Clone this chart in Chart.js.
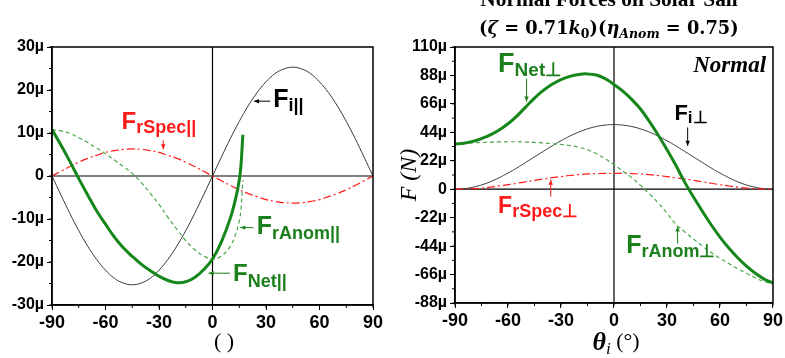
<!DOCTYPE html>
<html>
<head>
<meta charset="utf-8">
<script src="https://cdn.jsdelivr.net/npm/chart.js@4.4.1/dist/chart.umd.min.js"></script>
<style>
  html, body { margin: 0; padding: 0; background: #fff; }
  body { width: 785px; height: 358px; overflow: hidden; position: relative; }
  #c1 { position: absolute; left: 0; top: 0; }
  #c2 { position: absolute; left: 392px; top: 0; }
</style>
</head>
<body>
<canvas id="c1" width="392" height="358"></canvas>
<canvas id="c2" width="393" height="358"></canvas>
<script>
// ---------------- DATA ----------------
// incidence angle, degrees
const thetaFull = [-90,-85,-80,-75,-70,-65,-60,-55,-50,-45,-40,-35,-30,-25,-20,-15,-10,-5,0,
                   5,10,15,20,25,30,35,40,45,50,55,60,65,70,75,80,85,90];
const thetaShort = [-90,-85,-80,-75,-70,-65,-60,-55,-50,-45,-40,-35,-30,-25,-20,-15,-10,-5,0,
                    5,10,13,15,16,17];

// Parallel forces (µN)
const fiPar   = [0,-4.4,-8.7,-12.7,-16.3,-19.4,-21.9,-23.8,-24.9,-25.3,-24.9,-23.8,-21.9,-19.4,-16.3,-12.7,-8.7,-4.4,0,
                 4.4,8.7,12.7,16.3,19.4,21.9,23.8,24.9,25.3,24.9,23.8,21.9,19.4,16.3,12.7,8.7,4.4,0];
const specPar = [0,1.1,2.2,3.2,4.1,4.8,5.5,5.9,6.2,6.3,6.2,5.9,5.5,4.8,4.1,3.2,2.2,1.1,0,
                 -1.1,-2.2,-3.2,-4.1,-4.8,-5.5,-5.9,-6.2,-6.3,-6.2,-5.9,-5.5,-4.8,-4.1,-3.2,-2.2,-1.1,0];
const anomPar = [10.8,10.5,9.9,8.9,7.8,6.5,5.2,3.7,2.2,0.6,-1.5,-4.0,-6.6,-9.6,-12.4,-15.0,-17.1,-18.6,-19.3,
                 -18.6,-16.3,-13.5,-10.5,-7.5,-1.0];
const netPar  = [10.8,7.2,3.4,-0.6,-4.4,-8.1,-11.2,-14.2,-16.7,-18.7,-20.5,-22.0,-23.3,-24.3,-24.8,-24.6,-23.6,-21.8,-19.3,
                 -15.3,-9.8,-5.2,-1.0,2.6,9.6];

// Normal forces (µN)
const fiPerp   = [0,0.4,1.5,3.3,5.8,8.9,12.5,16.4,20.7,25,29.3,33.5,37.5,41.1,44.2,46.7,48.5,49.6,50,
                  49.6,48.5,46.7,44.2,41.1,37.5,33.5,29.3,25,20.7,16.4,12.5,8.9,5.8,3.3,1.5,0.4,0];
const specPerp = [0,0.1,0.4,0.9,1.6,2.5,3.5,4.6,5.7,6.8,7.9,8.9,9.8,10.6,11.3,11.8,12.1,12.3,12.3,
                  12.3,12.1,11.8,11.3,10.6,9.8,8.9,7.9,6.8,5.7,4.6,3.5,2.5,1.6,0.9,0.4,0.1,0];
const anomPerp = [35.0,35.4,35.8,36.1,36.4,36.6,36.7,36.7,36.5,36.2,35.8,35.2,34.6,33.8,32.5,30.5,27.5,23.5,19.0,
                  14.0,9.0,3.0,-3.5,-10.5,-18.5,-27.0,-33.0,-38.5,-44.0,-49.0,-53.5,-57.5,-61.5,-65.0,-68.5,-71.5,-73.0];
const netPerp  = [35.0,35.6,37.0,39.2,42.0,45.8,50.6,56.6,63.5,70.5,76.5,81.2,84.8,87.3,88.8,89.2,88.3,85.5,81.0,
                  75.8,69.5,62.0,52.5,42.0,30.5,18.5,5.5,-6.0,-17.0,-27.5,-37.0,-45.5,-53.0,-59.5,-65.0,-69.5,-72.5];

// Tick labels
const xTicks     = [-90,-60,-30,0,30,60,90];
const yTicksPar  = [-30,-20,-10,0,10,20,30];
const yTicksPerp = [-88,-66,-44,-22,0,22,44,66,88,110];

// ---------------- helpers ----------------
function pts(xs, ys) { return xs.map((x, i) => ({ x: x, y: ys[i] })); }
function fmtMu(v) { return v === 0 ? '0' : v + 'µ'; }

const GREEN = '#15861a';
const GREEN_TXT = '#1b7f1b';
const RED = '#ff1a1a';

function drawArrow(ctx, x1, y1, x2, y2, color) {
  ctx.strokeStyle = color; ctx.fillStyle = color; ctx.lineWidth = 1;
  ctx.beginPath(); ctx.moveTo(x1, y1); ctx.lineTo(x2, y2); ctx.stroke();
  const ang = Math.atan2(y2 - y1, x2 - x1), L = 5, W = 2.2;
  ctx.beginPath();
  ctx.moveTo(x2, y2);
  ctx.lineTo(x2 - L * Math.cos(ang) + W * Math.sin(ang), y2 - L * Math.sin(ang) - W * Math.cos(ang));
  ctx.lineTo(x2 - L * Math.cos(ang) - W * Math.sin(ang), y2 - L * Math.sin(ang) + W * Math.cos(ang));
  ctx.closePath(); ctx.fill();
}

function drawForceLabel(ctx, sx, sy, lab) {
  const px = sx.getPixelForValue(lab.x), py = sy.getPixelForValue(lab.y);
  ctx.fillStyle = lab.color;
  ctx.textAlign = 'left'; ctx.textBaseline = 'alphabetic';
  ctx.font = 'bold ' + lab.fs + 'px "Liberation Sans", Arial, sans-serif';
  ctx.fillText(lab.main, px, py);
  const w = ctx.measureText(lab.main).width;
  ctx.font = 'bold ' + lab.ss + 'px "Liberation Sans", Arial, sans-serif';
  ctx.fillText(lab.sub, px + w, py + lab.dy);
  if (lab.arrow) {
    const a = lab.arrow;
    drawArrow(ctx, sx.getPixelForValue(a[0]), sy.getPixelForValue(a[1]),
                   sx.getPixelForValue(a[2]), sy.getPixelForValue(a[3]), lab.color);
  }
}

const decor = {
  id: 'decor',
  beforeDatasetsDraw(chart) {
    const { ctx, chartArea: a, scales: { x, y } } = chart;
    ctx.save();
    ctx.strokeStyle = '#000'; ctx.lineWidth = 1.2;
    const x0 = x.getPixelForValue(0), y0 = y.getPixelForValue(0);
    ctx.beginPath();
    ctx.moveTo(a.left, y0); ctx.lineTo(a.right, y0);
    ctx.moveTo(x0, a.top); ctx.lineTo(x0, a.bottom);
    ctx.stroke();
    ctx.restore();
  },
  afterDraw(chart, args, o) {
    const { ctx, chartArea: a, scales: { x, y } } = chart;
    ctx.save();
    // frame
    ctx.strokeStyle = '#000'; ctx.lineWidth = 1.5;
    ctx.strokeRect(a.left, a.top, a.right - a.left, a.bottom - a.top);
    // minor ticks
    ctx.lineWidth = 1;
    ctx.beginPath();
    for (let v = y.min; v <= y.max + 1e-9; v += o.yMinor) {
      const p = y.getPixelForValue(v);
      ctx.moveTo(a.left, p); ctx.lineTo(a.left - 3, p);
    }
    for (let v = x.min; v <= x.max + 1e-9; v += 15) {
      const p = x.getPixelForValue(v);
      ctx.moveTo(p, a.bottom); ctx.lineTo(p, a.bottom + 3);
    }
    ctx.stroke();
    // force labels
    (o.labels || []).forEach(l => drawForceLabel(ctx, x, y, l));
    if (o.extra) o.extra(chart, ctx, a, x, y);
    ctx.restore();
  }
};

function baseOptions(yMin, yMax, yTicks, yWidth, xHeight, padRight, yMinor, labels, extra, yTitle) {
  return {
    responsive: false,
    animation: false,
    layout: { padding: { top: 47, right: padRight, left: 0, bottom: 0 } },
    elements: { point: { radius: 0 }, line: { tension: 0.4 } },
    plugins: {
      legend: { display: false },
      tooltip: { enabled: false },
      decor: { yMinor: yMinor, labels: labels, extra: extra }
    },
    scales: {
      x: {
        type: 'linear', min: -90, max: 90,
        afterBuildTicks: s => { s.ticks = xTicks.map(v => ({ value: v })); },
        afterFit: s => { s.height = xHeight; },
        ticks: { color: '#000', padding: 2, maxRotation: 0, autoSkip: false,
                 font: { family: '"Liberation Sans Narrow", "Liberation Sans", Arial', weight: 'bold', size: 18 } },
        grid: { drawOnChartArea: false, drawTicks: true, tickLength: 5, color: '#000', lineWidth: 1 },
        border: { display: true, color: '#000', width: 1.5 }
      },
      y: {
        type: 'linear', min: yMin, max: yMax,
        afterBuildTicks: s => { s.ticks = yTicks.map(v => ({ value: v })); },
        afterFit: s => { s.width = yWidth; },
        ticks: { color: '#000', padding: 3, autoSkip: false, callback: v => fmtMu(v),
                 font: { family: '"Liberation Sans", Arial', weight: 'bold', size: 16 } },
        grid: { drawOnChartArea: false, drawTicks: true, tickLength: 5, color: '#000', lineWidth: 1 },
        border: { display: true, color: '#000', width: 1.5 },
        title: yTitle || { display: false }
      }
    }
  };
}

function seriesSets(thFull, thNet, fi, spec, anom, net) {
  return [
    { data: pts(thNet, net), borderColor: GREEN, borderWidth: 3 },
    { data: pts(thNet, anom), borderColor: '#4aa84a', borderWidth: 1.2, borderDash: [4, 3] },
    { data: pts(thFull, spec), borderColor: RED, borderWidth: 1.2, borderDash: [8, 3, 2, 3] },
    { data: pts(thFull, fi), borderColor: '#3a3a3a', borderWidth: 1 }
  ];
}

// ---------------- LEFT: parallel forces ----------------
const leftLabels = [
  { main: 'F', sub: 'i||', x: 34.0, y: 16.0, fs: 25, ss: 18, dy: 4, color: '#000', arrow: [32.3, 17.4, 23.3, 17.4] },
  { main: 'F', sub: 'rSpec||', x: -51.0, y: 10.9, fs: 24, ss: 18, dy: 4, color: RED, arrow: [-27.6, 8.3, -27.6, 6.2] },
  { main: 'F', sub: 'rAnom||', x: 24.8, y: -13.6, fs: 25, ss: 18, dy: 5, color: GREEN_TXT, arrow: [22.9, -12.0, 15.6, -12.0] },
  { main: 'F', sub: 'Net||', x: 11.5, y: -24.4, fs: 24, ss: 18, dy: 6, color: GREEN_TXT, arrow: [9.8, -22.6, -2.2, -22.6] }
];
new Chart(document.getElementById('c1'), {
  type: 'line',
  data: { datasets: seriesSets(thetaFull, thetaShort, fiPar, specPar, anomPar, netPar) },
  options: baseOptions(-30, 30, yTicksPar, 52, 53, 19, 5, leftLabels,
    (chart, ctx, a) => {
      ctx.fillStyle = '#000';
      ctx.font = '22px "Liberation Serif", "Times New Roman", serif';
      ctx.textAlign = 'center'; ctx.textBaseline = 'alphabetic';
      ctx.fillText('( )', 224, 348);
    }),
  plugins: [decor]
});

// ---------------- RIGHT: normal forces ----------------
const rightLabels = [
  { main: 'F', sub: 'Net⊥', x: -65.6, y: 90.7, fs: 27, ss: 19, dy: 4, color: GREEN_TXT, arrow: [-49.5, 85.6, -49.5, 67.8] },
  { main: 'F', sub: 'i⊥', x: 34.2, y: 53.5, fs: 22, ss: 17, dy: 3, color: '#000', arrow: [41.7, 47.8, 41.7, 33.6] },
  { main: 'F', sub: 'rSpec⊥', x: -65.6, y: -18.5, fs: 23, ss: 18, dy: 4, color: RED, arrow: [-35.8, -5.7, -35.8, 7.4] },
  { main: 'F', sub: 'rAnom⊥', x: 6.9, y: -49.4, fs: 25, ss: 18, dy: 4, color: GREEN_TXT, arrow: [36.0, -42.2, 36.0, -28.9] }
];
function fitFont(ctx, text, base, targetW) {
  ctx.font = base.replace('SIZE', 20);
  const w = ctx.measureText(text).width;
  return 20 * targetW / w;
}
new Chart(document.getElementById('c2'), {
  type: 'line',
  data: { datasets: seriesSets(thetaFull, thetaFull, fiPerp, specPerp, anomPerp, netPerp) },
  options: baseOptions(-88, 110, yTicksPerp, 63, 55, 11, 11, rightLabels,
    (chart, ctx, a, sx, sy) => {
      ctx.fillStyle = '#000';
      ctx.textBaseline = 'alphabetic';
      // "Normal"
      ctx.font = 'italic bold 23px "Liberation Serif", "Times New Roman", serif';
      ctx.textAlign = 'right';
      ctx.fillText('Normal', sx.getPixelForValue(86.1), sy.getPixelForValue(90.5));
      // title line 1 (mostly cut off at top)
      const cx = 217;
      const t1 = 'Normal Forces on Solar Sail';
      const f1 = fitFont(ctx, t1, 'bold SIZEpx "Liberation Serif", serif', 258);
      ctx.font = 'bold ' + f1.toFixed(1) + 'px "Liberation Serif", serif';
      ctx.textAlign = 'center';
      ctx.fillText(t1, cx, 6);
      // title line 2 with math segments
      const S = 20, s = 14;
      const segs = [
        ['(', 'bold', S, 0], ['ζ', 'italic bold', S, 0], [' = ', 'bold', S, 0], ['0.71', 'bold', S, 0],
        ['k', 'italic bold', S, 0], ['0', 'bold', s, 4], [')(', 'bold', S, 0], ['η', 'italic bold', S, 0],
        ['Anom', 'italic bold', s, 4], [' = ', 'bold', S, 0], ['0.75', 'bold', S, 0], [')', 'bold', S, 0]
      ];
      const fam = 'px "DejaVu Serif", "Liberation Serif", serif';
      let total = 0;
      segs.forEach(g => { ctx.font = g[1] + ' ' + g[2] + fam; total += ctx.measureText(g[0]).width; });
      const k = 260 / total;
      let px = cx - 130;
      ctx.textAlign = 'left';
      segs.forEach(g => {
        ctx.font = g[1] + ' ' + (g[2] * k).toFixed(1) + fam;
        ctx.fillText(g[0], px, 34 + g[3]);
        px += ctx.measureText(g[0]).width;
      });
      // x title: θi (°)
      const xc = (a.left + a.right) / 2 + 2;
      ctx.font = 'italic bold 26px "Liberation Serif", serif';
      const wT = ctx.measureText('θ').width;
      ctx.font = 'italic 17px "Liberation Serif", serif';
      const wI = ctx.measureText('i').width;
      ctx.font = '22px "Liberation Serif", serif';
      const wP = ctx.measureText(' (°)').width;
      let x0 = xc - (wT + wI + wP) / 2;
      ctx.font = 'italic bold 26px "Liberation Serif", serif';
      ctx.fillText('θ', x0, 350); x0 += wT;
      ctx.font = 'italic 17px "Liberation Serif", serif';
      ctx.fillText('i', x0, 354); x0 += wI;
      ctx.font = '22px "Liberation Serif", serif';
      ctx.fillText(' (°)', x0, 348);
    },
    { display: true, text: 'F (N)', color: '#000', padding: { top: 3, bottom: 0 },
      font: { family: '"Liberation Serif", "Times New Roman", serif', style: 'italic', size: 24 } }),
  plugins: [decor]
});
</script>
</body>
</html>
